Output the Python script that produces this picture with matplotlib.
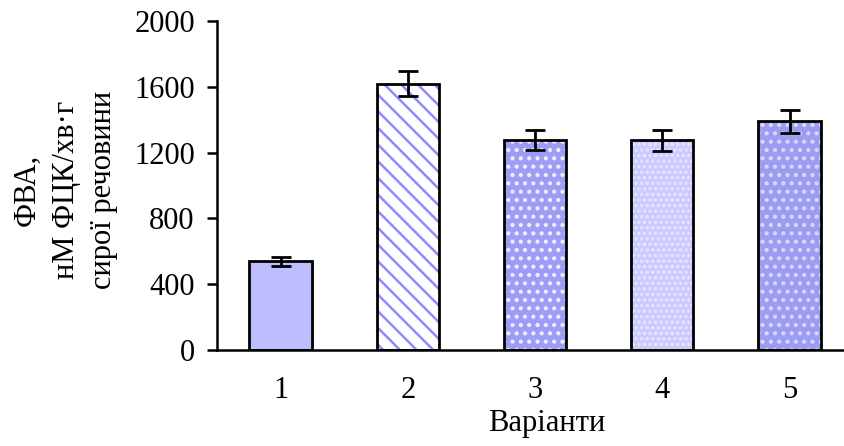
import matplotlib
matplotlib.use("Agg")
import matplotlib.pyplot as plt

plt.rcParams['font.family'] = ['Liberation Serif', 'DejaVu Serif']
plt.rcParams['hatch.linewidth'] = 1.8

categories = ['1', '2', '3', '4', '5']
values = [540, 1620, 1275, 1275, 1390]
errors = [27, 76, 60, 65, 70]
yticks = [0, 400, 800, 1200, 1600, 2000]
ylabel_lines = ['ФВА,', 'нМ ФЦК/хв·г', 'сирої речовини']
xlabel = 'Варіанти'

faces = ['#bdbdff', '#ffffff', '#9d9df6', '#c9c9ff', '#9c9cf0']
hatch_cols = ['#c4c4ff', '#8c8cff', '#eeeeff', '#e6e6ff', '#d8d8ff']
hatches = ['', '\\\\', '..', '...', '..']

fig = plt.figure(figsize=(8.45, 4.46), dpi=100)
ax = fig.add_axes([217/845, 1-350/446, (843-217)/845, (350-21)/446])

xs = list(range(1, len(categories) + 1))
for x, v, f, hc, h in zip(xs, values, faces, hatch_cols, hatches):
    ax.bar(x, v, width=0.49, color=f, edgecolor=hc, linewidth=0, hatch=h, zorder=2)
ax.bar(xs, values, width=0.49, facecolor='none', edgecolor='black', linewidth=2.0, zorder=3)
ax.errorbar(xs, values, yerr=errors, fmt='none', ecolor='black', elinewidth=2.0,
            capsize=7, capthick=2.0, zorder=4)

ax.set_xlim(0.5, 5.42)
ax.set_ylim(0, 2000)
ax.set_yticks(yticks)
ax.set_xticks(xs)
ax.set_xticklabels(categories)
for s in ['top', 'right']:
    ax.spines[s].set_visible(False)
for s in ['left', 'bottom']:
    ax.spines[s].set_linewidth(1.8)
ax.tick_params(axis='y', direction='out', length=7, width=1.8, pad=9, labelsize=22)
ax.tick_params(axis='x', length=0, pad=19, labelsize=22)

fig.text(547/845, 1-431/446, xlabel, ha='center', va='baseline', fontsize=22)
ys = [27, 67, 104]
for xp, line in zip(ys, ylabel_lines):
    fig.text(xp/845, 1-190/446, line, ha='center', va='center', rotation=90, fontsize=22)

fig.savefig('out.png', dpi=100)
